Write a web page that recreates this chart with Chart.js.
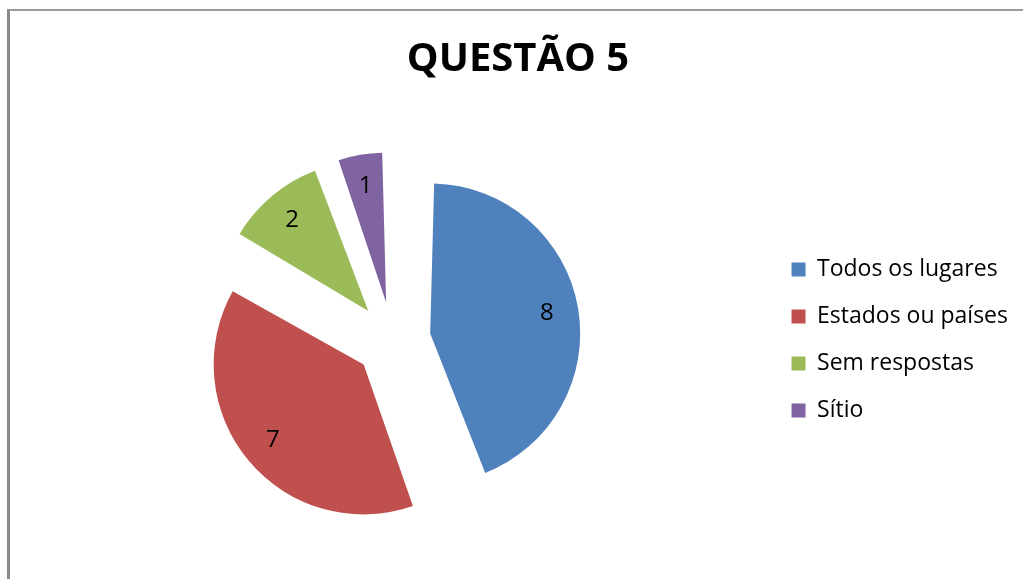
<!DOCTYPE html>
<html>
<head>
<meta charset="utf-8">
<script src="https://cdn.jsdelivr.net/npm/chart.js@4.4.1/dist/chart.umd.min.js"></script>
<style>
  html, body { margin: 0; padding: 0; background: #fff; overflow: hidden; width: 1023px; height: 579px; }
  #frame { position: absolute; left: 7px; top: 9px; width: 1100px; height: 700px;
           border-top: 2px solid #9a9a9a; border-left: 3px solid #8a8a8a; }
  #wrap { position: absolute; left: 0; top: 0; width: 1040px; height: 579px; }
</style>
</head>
<body>
<div id="frame"></div>
<div id="wrap"><canvas id="c"></canvas></div>
<script>
const titleText = "QUESTÃO 5";
const categories = ["Todos os lugares", "Estados ou países", "Sem respostas", "Sítio"];
const values = [8, 7, 2, 1];
const colors = ["#4F81BD", "#C0504D", "#9BBB59", "#8064A2"];

const PIE_RADIUS = 150;
const EXPLODE = 38;

// Chart.js enlarges exploded arcs by offset*fix; keep every slice at the same radius.
const equalRadius = {
  id: 'equalRadius',
  beforeDatasetsDraw(chart) {
    const meta = chart.getDatasetMeta(0);
    meta.data.forEach(arc => {
      const off = (arc.options.offset || 0) / 4;
      const fix = 1 - Math.sin(Math.min(Math.PI, arc.circumference || 0));
      arc.outerRadius = PIE_RADIUS - off * fix;
    });
  }
};

const sliceLabels = {
  id: 'sliceLabels',
  afterDatasetsDraw(chart) {
    const ctx = chart.ctx;
    const meta = chart.getDatasetMeta(0);
    ctx.save();
    ctx.font = '24px "Open Sans", sans-serif';
    ctx.fillStyle = '#000';
    ctx.textAlign = 'center';
    ctx.textBaseline = 'middle';
    meta.data.forEach((arc, i) => {
      const mid = (arc.startAngle + arc.endAngle) / 2;
      const off = (arc.options.offset || 0) / 4;
      const r = PIE_RADIUS * 0.79;
      const cx = arc.x + Math.cos(mid) * off;
      const cy = arc.y + Math.sin(mid) * off;
      ctx.fillText(String(values[i]), cx + Math.cos(mid) * r, cy + Math.sin(mid) * r);
    });
    ctx.restore();
  }
};

new Chart(document.getElementById('c'), {
  type: 'pie',
  data: {
    labels: categories,
    datasets: [{
      data: values,
      backgroundColor: colors,
      borderWidth: 0,
      offset: EXPLODE * 4,
      hoverOffset: EXPLODE * 4
    }]
  },
  options: {
    responsive: true,
    maintainAspectRatio: false,
    animation: false,
    radius: PIE_RADIUS,
    layout: { padding: { left: 18, right: 22, top: 0, bottom: 0 } },
    plugins: {
      title: {
        display: true,
        text: titleText,
        color: '#000',
        font: { family: '"Open Sans", sans-serif', size: 40, weight: 'bold' },
        padding: { top: 36, bottom: 17 }
      },
      legend: {
        position: 'right',
        fullSize: false,
        labels: {
          color: '#000',
          boxWidth: 14,
          boxHeight: 14,
          padding: 24,
          font: { family: '"Open Sans", sans-serif', size: 23 }
        }
      },
      tooltip: { enabled: false }
    }
  },
  plugins: [equalRadius, sliceLabels]
});
</script>
</body>
</html>
